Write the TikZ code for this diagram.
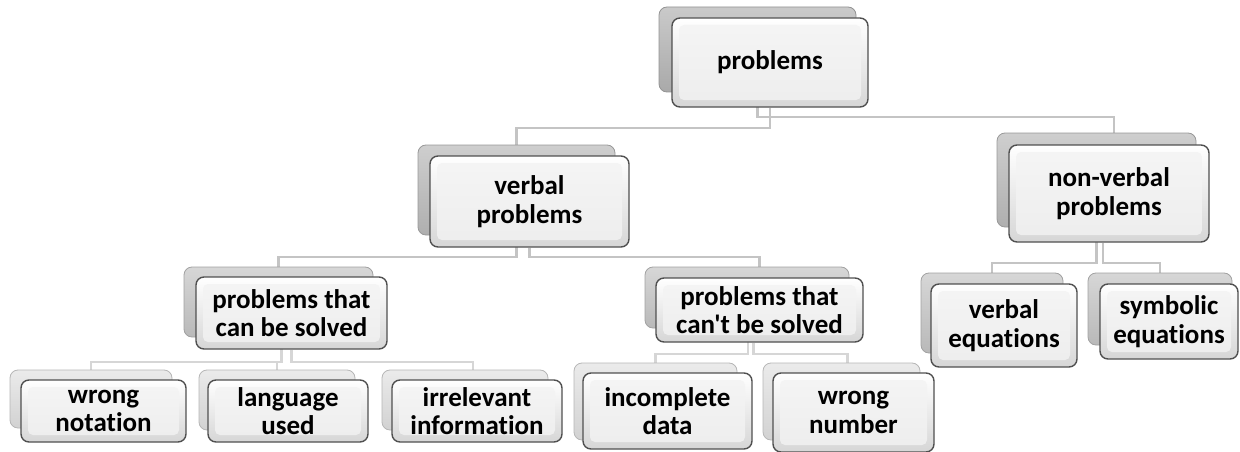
\documentclass[tikz,border=0pt]{standalone}
\usepackage{fontspec}
\setmainfont{Carlito}[Ligatures={NoCommon,TeXOff}]
\pgfdeclarelayer{background}
\pgfsetlayers{background,main}
\definecolor{bk1}{HTML}{B8B8B8}
\definecolor{bk2}{HTML}{BEBEBE}
\definecolor{bk3}{HTML}{C9C9C9}
\definecolor{bk4}{HTML}{E4E4E4}
\definecolor{conncol}{HTML}{C4C4C4}
\definecolor{conncolb}{HTML}{D6D6D6}
\definecolor{edgecol}{HTML}{505050}
\tikzset{
  backcard/.style={rectangle, rounded corners=8pt, draw=#1!80!black, line width=0.8pt,
    inner sep=0pt, top color=#1!75!white, bottom color=#1!92!black},
  frontcard/.style={rectangle, rounded corners=8pt, draw=edgecol, line width=1.4pt,
    inner sep=0pt, align=center, top color=white, bottom color=black!16,
    font=\bfseries\fontsize{27}{28.5}\selectfont,
    path picture={\shade[rounded corners=5pt, top color=white!96!black, bottom color=black!7]
      ([shift={(7pt,-7pt)}]path picture bounding box.north west) rectangle
      ([shift={(-7pt,7pt)}]path picture bounding box.south east);}},
  conn/.style={draw=conncol, line width=2.6pt},
  connb/.style={draw=conncolb, line width=2.6pt}
}
\begin{document}
\begin{tikzpicture}[x=1pt,y=-1pt]
\useasboundingbox (0,0) rectangle (1240,452);
% bus levels
\coordinate (L1a) at (0,117);
\coordinate (L1b) at (0,128);
\coordinate (L2) at (0,257);
\coordinate (L3a) at (0,362);
\coordinate (L3b) at (0,354);
\coordinate (L3c) at (0,263);
% back cards
\node[backcard=bk1, minimum width=197, minimum height=85] (PB) at (757.5,49.5) {};
\node[backcard=bk2, minimum width=197, minimum height=90] (VB) at (516.5,190) {};
\node[backcard=bk2, minimum width=199, minimum height=94] (NVB) at (1096.5,180) {};
\node[backcard=bk3, minimum width=189, minimum height=70] (CSB) at (278.5,302) {};
\node[backcard=bk3, minimum width=204, minimum height=61] (CNB) at (747,297.5) {};
\node[backcard=bk3, minimum width=142, minimum height=80] (VEB) at (992,313) {};
\node[backcard=bk3, minimum width=144, minimum height=72] (SEB) at (1160,309) {};
\node[backcard=bk4, minimum width=162, minimum height=58] (WNB) at (91,399) {};
\node[backcard=bk4, minimum width=156, minimum height=60] (LUB) at (277,400) {};
\node[backcard=bk4, minimum width=166, minimum height=60] (IIB) at (465,400) {};
\node[backcard=bk4, minimum width=163, minimum height=77] (IDB) at (655.5,401.5) {};
\node[backcard=bk4, minimum width=157, minimum height=77] (WUB) at (841.5,401.5) {};
% front cards
\node[frontcard, minimum width=196, minimum height=89] (PF) at (770,62.5) {problems};
\node[frontcard, minimum width=199, minimum height=91] (VF) at (529.5,201.5) {verbal\\problems};
\node[frontcard, minimum width=200, minimum height=97] (NVF) at (1109,193.5) {non-verbal\\problems};
\node[frontcard, minimum width=191, minimum height=72] (CSF) at (291.5,313) {problems that\\can be solved};
\node[frontcard, minimum width=207, minimum height=64] (CNF) at (759.5,310) {problems that\\can't be solved};
\node[frontcard, minimum width=146, minimum height=83] (VEF) at (1004,325.5) {verbal\\equations};
\node[frontcard, minimum width=138, minimum height=75] (SEF) at (1169,321.5) {symbolic\\equations};
\node[frontcard, minimum width=165, minimum height=62] (WNF) at (103.5,411) {wrong\\notation};
\node[frontcard, minimum width=160, minimum height=62] (LUF) at (288,411) {language\\used};
\node[frontcard, minimum width=170, minimum height=62] (IIF) at (477,411) {irrelevant\\information};
\node[frontcard, minimum width=169, minimum height=76] (IDF) at (667.5,411) {incomplete\\data};
\node[frontcard, minimum width=161, minimum height=79] (WUF) at (853.5,412.5) {wrong\\number};
% connectors
\begin{pgfonlayer}{background}
\draw[conn] (PB.south) |- ([xshift=5pt]NVF.north |- L1a) -- ([xshift=5pt]NVF.north |- NVB.north);
\draw[conn] (PF.south) |- (VB.north |- L1b) -- (VB.north);
\draw[conn] (VB.south) |- (CSB.north |- L2) -- (CSB.north);
\draw[conn] (VF.south) |- (CNF.north |- L2) -- (CNF.north |- CNB.north);
\draw[conn] (NVB.south) |- (VEB.north |- L3c) -- (VEB.north);
\draw[conn] ([xshift=-6pt]NVF.south) |- (SEB.north |- L3c) -- (SEB.north);
\draw[connb] ([xshift=3pt]CSB.south) |- (WNB.north |- L3a) -- (WNB.north);
\draw[connb] ([xshift=3pt]CSB.south |- L3a) -| (LUB.north);
\draw[connb] (CSF.south) |- ([xshift=-4pt]IIF.north |- L3a) -- ([xshift=-4pt]IIF.north |- IIB.north);
\draw[connb] ([xshift=1pt]CNB.south) |- (IDB.north |- L3b) -- (IDB.north);
\draw[connb] ([xshift=-6pt]CNF.south) |- ([xshift=6pt]WUB.north |- L3b) -- ([xshift=6pt]WUB.north);
\end{pgfonlayer}
\end{tikzpicture}
\end{document}
